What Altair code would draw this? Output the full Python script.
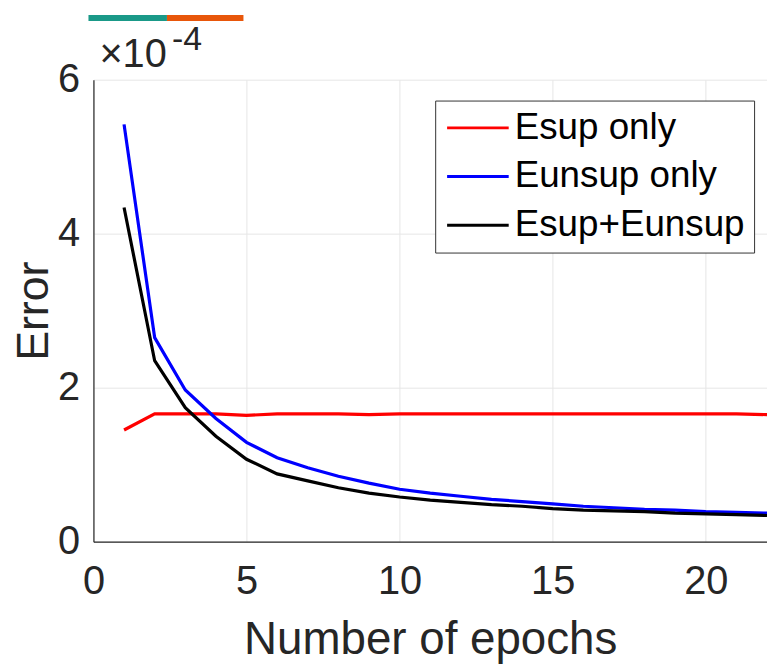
import altair as alt
import pandas as pd

epochs = list(range(1, 23))
esup_only = [1.45, 1.66, 1.66, 1.66, 1.64, 1.66, 1.66, 1.66, 1.65, 1.66, 1.66,
             1.66, 1.66, 1.66, 1.66, 1.66, 1.66, 1.66, 1.66, 1.66, 1.66, 1.65]
eunsup_only = [5.42, 2.65, 1.97, 1.60, 1.29, 1.09, 0.96, 0.85, 0.76, 0.68, 0.63,
               0.59, 0.55, 0.52, 0.49, 0.46, 0.44, 0.42, 0.41, 0.39, 0.38, 0.37]
esup_eunsup = [4.34, 2.35, 1.74, 1.37, 1.07, 0.88, 0.79, 0.70, 0.63, 0.58, 0.54,
               0.51, 0.48, 0.46, 0.43, 0.41, 0.40, 0.39, 0.37, 0.36, 0.35, 0.34]
series_names = ["Esup only", "Eunsup only", "Esup+Eunsup"]
series_colors = ["#ff0000", "#0000ff", "#000000"]
x_ticks = [0, 5, 10, 15, 20]
y_ticks = [0, 2e-4, 4e-4, 6e-4]

rows = []
for name, vals in zip(series_names, [esup_only, eunsup_only, esup_eunsup]):
    for e, v in zip(epochs, vals):
        rows.append({"epoch": e, "error": v * 1e-4, "series": name})
df = pd.DataFrame(rows)

FONT = "Liberation Sans"
TXT = "#262626"

lines = alt.Chart(df).mark_line(strokeWidth=3.2, clip=True).encode(
    x=alt.X("epoch:Q", scale=alt.Scale(domain=[0, 22], nice=False),
            axis=alt.Axis(values=x_ticks, title="Number of epochs",
                          titleFontSize=46, titleFontWeight="normal", labelFlush=False,
                          titlePadding=17, labelPadding=20, labelFontSize=40)),
    y=alt.Y("error:Q", scale=alt.Scale(domain=[0, 6e-4], nice=False),
            axis=alt.Axis(values=y_ticks, labelExpr="format(datum.value*1e4, 'd')",
                          title="Error", titleFontSize=45, titleFontWeight="normal",
                          labelFlush=False,
                          titlePadding=1, labelPadding=14, labelFontSize=40)),
    color=alt.Color("series:N", sort=series_names,
                    scale=alt.Scale(domain=series_names, range=series_colors),
                    legend=alt.Legend(title=None, orient="none", legendX=344, legendY=21,
                                      symbolType="M-1,0H3", symbolSize=961, symbolStrokeWidth=3,
                                      labelFontSize=37, labelFont=FONT, labelLimit=500,
                                      labelColor="#000000", rowPadding=11,
                                      padding=9, strokeColor="#333333", fillColor="white",
                                      labelOffset=34)),
)

exp_base = alt.Chart(pd.DataFrame({"t": ["×10"]})).mark_text(
    align="left", baseline="alphabetic", fontSize=40, font=FONT, color=TXT
).encode(text="t:N", x=alt.value(6), y=alt.value(-13))
exp_pow = alt.Chart(pd.DataFrame({"t": ["-4"]})).mark_text(
    align="left", baseline="alphabetic", fontSize=34, font=FONT, color=TXT
).encode(text="t:N", x=alt.value(79), y=alt.value(-30))

bar_teal = alt.Chart(pd.DataFrame({"a": [0]})).mark_rule(strokeWidth=6, color="#1a9988").encode(
    x=alt.value(-5), x2=alt.value(74), y=alt.value(-62))
bar_orange = alt.Chart(pd.DataFrame({"a": [0]})).mark_rule(strokeWidth=6, color="#e8560a").encode(
    x=alt.value(74), x2=alt.value(151), y=alt.value(-62))

chart = alt.layer(lines, exp_base, exp_pow, bar_teal, bar_orange).properties(
    width=678, height=465,
    autosize=alt.AutoSizeParams(type="none"),
    padding={"left": 86, "top": 70, "right": 0, "bottom": 124},
).configure(font=FONT).configure_axis(
    grid=True, gridColor="#e6e6e6", gridWidth=1,
    domainColor=TXT, domainWidth=1.2, tickColor=TXT, ticks=False,
    labelColor=TXT, titleColor=TXT, labelFont=FONT, titleFont=FONT,
).configure_view(stroke=None)

chart.save("out.html", embed_options={"renderer": "svg", "actions": False})
